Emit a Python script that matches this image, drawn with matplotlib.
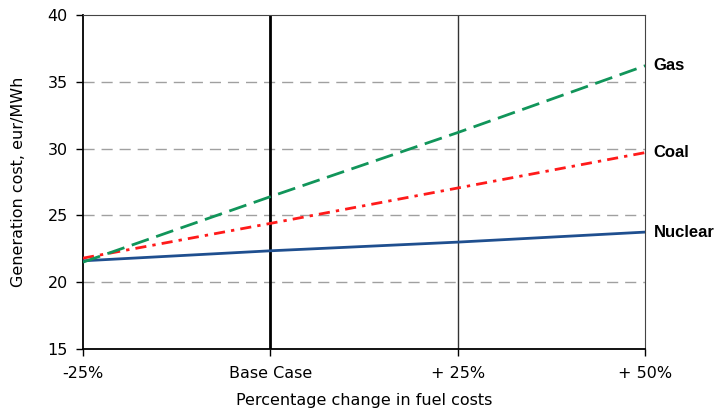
import matplotlib.pyplot as plt

plt.rcParams['font.family'] = ['DejaVu Sans']

x_labels = ["-25%", "Base Case", "+ 25%", "+ 50%"]
gas = [21.5, 26.4, 31.2, 36.2]
coal = [21.8, 24.4, 27.05, 29.7]
nuclear = [21.6, 22.35, 23.0, 23.75]

fig = plt.figure(figsize=(7.19, 4.15), dpi=100)
ax = fig.add_axes([0.1154, 0.159, 0.782, 0.805])

x = range(len(x_labels))

# grid
for yv in [20, 25, 30, 35]:
    ax.axhline(yv, color="#a0a0a0", lw=1, dashes=(8, 5), zorder=1)
ax.axvline(1, color="black", lw=2, zorder=2)
ax.axvline(2, color="#333333", lw=1, zorder=2)

ax.plot(x, nuclear, color="#1f4f8f", lw=2, zorder=3)
ax.plot(x, coal, color="#ff1a1a", lw=2, dashes=(4, 2.2, 1.2, 2.2), zorder=4)
ax.plot(x, gas, color="#11955a", lw=2, dashes=(6.5, 2.8), zorder=5)

for name, vals in [("Gas", gas), ("Coal", coal), ("Nuclear", nuclear)]:
    ax.annotate(name, (3, vals[-1]), xytext=(6, 0), textcoords="offset points",
                va="center", ha="left", fontweight="bold", fontsize=12,
                family="Liberation Sans", annotation_clip=False)

ax.set_xlim(0, 3)
ax.set_ylim(15, 40)
ax.set_yticks([15, 20, 25, 30, 35, 40])
ax.set_xticks(list(x))
ax.set_xticklabels(x_labels)
ax.tick_params(axis="both", direction="out", length=5, width=1, labelsize=11.5, color="black")
ax.tick_params(axis="x", pad=7)
ax.tick_params(axis="y", pad=6)

for side in ["top", "right"]:
    ax.spines[side].set_color("#444444")
ax.spines["left"].set_color("black")
ax.spines["bottom"].set_color("black")
ax.spines["left"].set_linewidth(1.3)
ax.spines["bottom"].set_linewidth(1.3)

ax.set_ylabel("Generation cost, eur/MWh", fontsize=11.5, labelpad=15)
ax.set_xlabel("Percentage change in fuel costs", fontsize=11.5, labelpad=9)

fig.savefig("out.png", dpi=100)
